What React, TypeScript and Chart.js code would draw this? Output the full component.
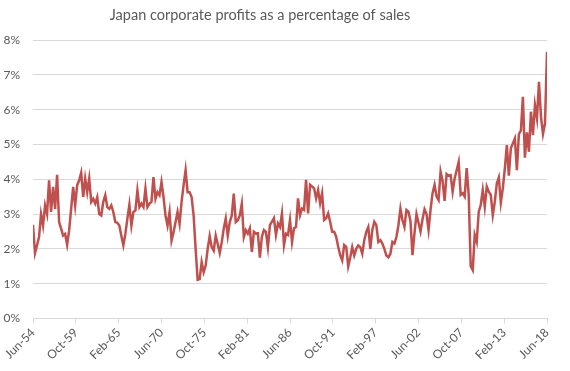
import React, { useEffect, useRef } from "react";
import { Chart, registerables } from "chart.js";

Chart.register(...registerables);

const chartTitle = "Japan corporate profits as a percentage of sales";

const xTickLabels = [
  "Jun-54", "Oct-59", "Feb-65", "Jun-70", "Oct-75", "Feb-81", "Jun-86",
  "Oct-91", "Feb-97", "Jun-02", "Oct-07", "Feb-13", "Jun-18",
];

const yTickLabels = ["0%", "1%", "2%", "3%", "4%", "5%", "6%", "7%", "8%"];

// Quarterly corporate profits as % of sales, Jun-54 .. Jun-18
const quarterlyProfitPct = [
  2.69, 1.88, 2.1, 2.34, 3.0, 2.67, 3.25, 3.0, 3.97, 3.06,
  3.78, 3.15, 4.13, 2.77, 2.58, 2.38, 2.43, 2.12, 2.53, 3.15,
  3.78, 3.25, 3.83, 3.97, 4.19, 3.49, 4.02, 3.63, 4.02, 3.35,
  3.44, 3.3, 3.49, 3.0, 2.96, 3.35, 3.54, 3.2, 3.15, 3.25,
  3.06, 2.77, 2.75, 2.67, 2.38, 2.1, 2.43, 2.87, 3.27, 2.67,
  3.06, 3.1, 3.68, 3.2, 3.3, 3.2, 3.73, 3.2, 3.3, 3.35,
  4.06, 3.44, 3.63, 3.54, 3.92, 3.49, 2.96, 2.67, 3.06, 2.24,
  2.48, 2.77, 3.06, 2.72, 3.35, 3.83, 4.26, 3.63, 3.63, 3.49,
  2.96, 2.0, 1.11, 1.13, 1.62, 1.33, 1.52, 2.0, 2.37, 2.05,
  1.95, 2.38, 2.14, 1.88, 2.19, 2.58, 2.87, 2.38, 2.77, 2.96,
  3.59, 2.77, 2.82, 2.96, 3.3, 2.34, 2.54, 2.44, 2.59, 1.91,
  2.49, 2.44, 2.45, 1.75, 2.35, 2.54, 2.49, 2.04, 2.68, 2.78,
  2.88, 2.4, 2.73, 2.63, 3.02, 2.11, 2.44, 2.4, 2.83, 2.2,
  2.59, 2.63, 3.45, 2.97, 3.16, 3.12, 3.98, 3.02, 3.84, 3.79,
  3.74, 3.45, 3.69, 3.31, 3.6, 2.83, 2.88, 3.02, 2.78, 2.49,
  2.49, 2.35, 2.06, 1.82, 1.67, 2.11, 2.06, 1.5, 1.75, 2.05,
  1.81, 2.0, 2.1, 2.05, 1.86, 2.25, 2.49, 2.63, 2.0, 2.54,
  2.78, 2.68, 2.2, 2.25, 2.15, 2.0, 1.81, 1.76, 1.86, 2.2,
  2.15, 2.34, 2.68, 3.16, 2.83, 2.63, 3.12, 3.07, 2.8, 1.82,
  2.45, 3.0, 2.75, 2.5, 2.85, 3.14, 3.0, 2.54, 3.12, 3.6,
  3.84, 3.5, 3.4, 4.22, 3.95, 3.38, 4.15, 4.1, 4.12, 3.64,
  4.02, 4.26, 4.5, 3.55, 3.6, 3.5, 4.32, 3.55, 1.5, 1.39,
  2.4, 2.2, 3.07, 3.26, 3.69, 3.21, 3.79, 3.64, 3.55, 2.97,
  3.35, 3.88, 4.05, 3.33, 3.74, 4.31, 4.98, 4.1, 4.89, 5.03,
  5.17, 4.26, 5.3, 5.4, 6.37, 4.62, 5.35, 4.79, 5.94, 5.27,
  6.13, 5.75, 6.8, 5.8, 5.3, 5.6, 7.66,
];

const MONTHS_PER_QUARTER = 3;
const MONTHS_PER_TICK = 64;

const TEXT_COLOR = "#595959";
const GRID_COLOR = "#d9d9d9";
const LINE_COLOR = "#c0504d";
const FONT_FAMILY = "Lato, 'Open Sans', sans-serif";

const titlePlugin = {
  id: "centeredTitle",
  afterDraw(chart: any) {
    const ctx = chart.ctx;
    ctx.save();
    ctx.fillStyle = TEXT_COLOR;
    ctx.font = `normal 14.5px ${FONT_FAMILY}`;
    ctx.textAlign = "center";
    ctx.textBaseline = "middle";
    ctx.fillText(chartTitle, 260, 15.5);
    ctx.restore();
  },
};

export default function App() {
  const canvasRef = useRef<HTMLCanvasElement | null>(null);

  useEffect(() => {
    document.body.style.margin = "0";
    const canvas = canvasRef.current;
    if (!canvas) return;
    const maxMonth = (xTickLabels.length - 1) * MONTHS_PER_TICK;
    const chart = new Chart(canvas, {
      type: "line",
      data: {
        datasets: [
          {
            data: quarterlyProfitPct.map((v, i) => ({ x: i * MONTHS_PER_QUARTER, y: v })),
            borderColor: LINE_COLOR,
            borderWidth: 2.5,
            pointRadius: 0,
            tension: 0,
            fill: false,
          },
        ],
      },
      plugins: [titlePlugin],
      options: {
        responsive: false,
        animation: false,
        layout: { padding: { left: 0, right: 23, top: 40, bottom: 0 } },
        plugins: {
          legend: { display: false },
          tooltip: { enabled: false },
          title: { display: false },
        },
        scales: {
          x: {
            type: "linear",
            min: 0,
            max: maxMonth,
            afterBuildTicks: (scale: any) => {
              scale.ticks = xTickLabels.map((_, k) => ({ value: k * MONTHS_PER_TICK }));
            },
            ticks: {
              autoSkip: false,
              minRotation: 45,
              maxRotation: 45,
              color: TEXT_COLOR,
              font: { family: FONT_FAMILY, size: 12 },
              padding: 2,
              callback: (_v: any, idx: number) => xTickLabels[idx],
            },
            grid: {
              display: true,
              drawOnChartArea: false,
              drawTicks: true,
              tickLength: 5,
              color: GRID_COLOR,
            },
            border: { display: true, color: GRID_COLOR },
            afterFit: (scale: any) => {
              scale.height = 52.5;
            },
          },
          y: {
            min: 0,
            max: 8,
            ticks: {
              stepSize: 1,
              color: TEXT_COLOR,
              font: { family: FONT_FAMILY, size: 12 },
              padding: 13,
              callback: (_v: any, idx: number) => yTickLabels[idx],
            },
            grid: { color: GRID_COLOR, drawTicks: false },
            border: { display: false },
            afterFit: (scale: any) => {
              scale.width = 33;
            },
          },
        },
      },
    });
    return () => chart.destroy();
  }, []);

  return (
    <div style={{ width: 570, height: 371, background: "#ffffff" }}>
      <canvas ref={canvasRef} width={570} height={371} style={{ display: "block" }} />
    </div>
  );
}
